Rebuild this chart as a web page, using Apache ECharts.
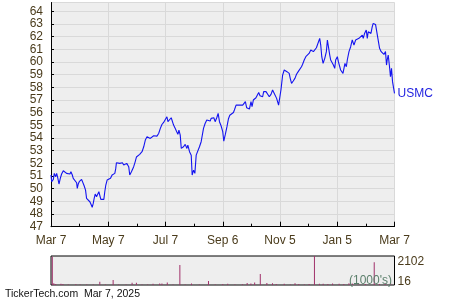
<!DOCTYPE html>
<html><head><meta charset="utf-8">
<script src="https://cdn.jsdelivr.net/npm/echarts@6/dist/echarts.min.js"></script>
<style>html,body{margin:0;padding:0;background:#fff}#c{width:450px;height:300px}</style>
</head><body><div id="c"></div>
<script>
const tickLabels = ['Mar 7','May 7','Jul 7','Sep 6','Nov 5','Jan 5','Mar 7'];
const seriesName = 'USMC';
const footerText = 'TickerTech.com  Mar 7, 2025';
const unitText = "(1000's)";
const days = [0,0.7,2.5,3.5,5.0,6.0,7.1,8.5,9.9,11.3,13.1,14.9,16.6,18.4,20.2,21.2,22.7,23.7,25.5,27.3,28.0,29.0,30.1,31.5,32.6,34.3,35.4,36.8,37.9,39.6,41.4,42.5,43.9,45.0,46.0,47.1,48.5,49.6,51.0,52.0,53.1,54.5,56.3,57.3,58.4,59.8,61.6,63.4,65.1,66.6,68.0,69.0,69.7,71.5,73.3,74.3,76.1,77.5,79.3,80.7,81.8,82.8,83.9,85.7,86.7,88.1,89.6,91.0,92.7,94.5,97.0,98.8,100.5,102.3,104.1,105.8,107.6,109.4,111.1,112.9,114.7,116.5,118.2,120.0,121.8,123.5,124.6,126.0,128.1,129.2,130.6,132.4,134.2,135.2,136.3,137.7,138.8,139.8,141.2,143.0,144.8,145.8,147.6,149.4,150.4,151.9,153.3,154.7,156.5,158.2,160.0,161.1,162.5,164.2,166.0,167.8,169.6,170.6,172.4,173.5,174.9,176.6,178.1,179.5,181.2,183.0,184.1,185.8,187.5,189.0,190.5,192.6,194.4,195.4,197.2,199.0,200.7,202.5,204.3,206.1,207.1,208.5,210.3,211.4,213.1,214.2,215.6,217.4,218.4,220.2,221.3,222.7,224.5,225.5,226.6,228.0,229.1,230.8,232.6,234.4,236.1,237.9,239.0,240.4,241.5,242.5,243.6,245.0,246.8,248.5,250.3,251.4,252.8,253.8,254.9,256.3,258.1,259.9,261.6,263.4,265.2,266.9,268.0,269.8,271.5,273.2,275.0,276.8,278.6,279.6,281.0,282.8,284.6,286.3,287.4,288.5,289.9,291.7,293.4,294.5,295.5,297.0,298.0,299.8,300.9,302.3,303.3,305.1,306.2,307.6,308.6,309.7,311.1,312.2,313.2,314.7,315.7,317.5,319.3,321.0,322.8,324.6,326.3,328.1,329.9,331.7,332.7,334.1,335.9,337.0,338.0,339.4,340.9,342.3,343.3,344.7,345.8,346.9,348.3,350.1,351.8,353.6,354.7,356.4,357.5,358.2,359.3,360.7,361.7,362.8,363.9,366.0];
const prices = [51.08,50.55,50.74,51.21,50.95,51.21,50.89,50.37,50.82,51.16,51.42,51.34,51.21,51.26,51.16,51.34,51.08,50.82,50.68,50.47,50.03,50.37,50.55,50.42,50.74,50.63,50.21,49.89,49.24,49.18,48.97,48.79,48.53,48.84,49.24,49.58,49.37,49.37,49.76,49.84,49.16,49.16,49.16,49.76,50.29,50.68,50.74,50.82,51.08,51.13,51.21,51.60,52.05,52.00,52.00,51.87,52.05,51.87,51.74,52.00,52.05,51.74,51.08,51.34,51.47,51.74,52.10,52.50,52.60,52.71,52.92,53.31,53.84,54.10,54.18,53.97,54.02,54.18,54.23,54.15,54.36,54.76,55.07,55.23,55.23,55.68,55.29,55.23,55.60,55.68,55.02,54.76,54.81,54.29,54.63,54.23,53.18,53.05,53.31,53.50,53.18,53.44,52.92,52.65,51.08,51.47,51.21,52.65,52.79,53.31,53.71,53.84,54.76,55.15,55.42,55.50,55.34,55.55,55.50,55.60,55.29,55.60,55.94,55.29,54.97,54.50,53.75,54.30,54.90,55.50,55.80,55.89,56.02,56.21,56.60,56.74,56.60,56.68,56.60,56.74,56.87,56.39,56.39,56.29,56.87,56.47,57.00,57.13,57.18,57.26,57.60,57.34,57.39,57.26,57.66,57.52,57.66,57.71,57.26,57.45,57.79,57.52,57.39,57.13,57.00,56.60,56.47,57.79,58.97,59.37,59.50,59.24,59.37,59.10,58.71,58.31,58.50,58.71,59.03,59.24,59.37,59.63,59.81,60.16,60.42,60.55,60.68,60.95,61.08,60.82,60.95,61.13,61.21,61.87,61.34,60.42,59.89,60.29,60.82,61.74,61.66,60.55,60.16,60.03,59.76,59.50,60.16,60.42,60.03,59.89,59.37,59.24,59.11,58.97,59.89,59.63,60.16,60.82,61.21,61.74,61.34,61.74,61.61,61.87,61.92,62.13,61.87,62.26,62.53,61.87,62.39,62.39,62.26,62.79,63.05,62.92,62.97,62.87,61.87,61.08,60.82,60.68,60.60,60.82,59.76,60.16,60.55,59.63,58.84,59.50,58.45,57.53];
const volDays = [1.4,3,5,10.6,12.7,18.4,26.5,31,38,45,52,58,66.2,72,80,86.4,91,97,103,108.7,115.8,118.2,123.9,130,137.3,143,149.7,158,167.8,175,183,188.3,196,204,209,213,217,223,230,236,240,248.5,255,260,264,270,275,280.7,286,290,295,300,307,312,317.5,321,328,335,344.4,350,356,362];
const volValues = [2050,150,90,110,90,60,70,50,60,50,250,60,370,50,60,180,180,60,50,100,130,120,200,60,1450,50,120,60,300,60,90,100,60,70,160,120,200,800,160,150,80,100,60,150,80,60,80,2102,110,100,90,120,100,80,150,120,60,90,1650,80,100,120];
const volTicks = [16, 2102];

const labelColor = '#4a3b1b';
const font = '"Liberation Sans", Arial, sans-serif';
const chart = echarts.init(document.getElementById('c'));
chart.setOption({
  animation: false,
  grid: [
    {left: 51, right: 55.5, top: 2.5, height: 224.2, show: true, backgroundColor: '#eeeeee', borderWidth: 0},
    {left: 51, right: 55.5, top: 256, height: 29, show: true, backgroundColor: '#eeeeee', borderColor: '#000', borderWidth: 1}
  ],
  xAxis: [
    {gridIndex: 0, type: 'value', min: 0, max: 366, interval: 61,
     axisLine: {show: true, onZero: false, lineStyle: {color: '#000', width: 1}},
     axisTick: {show: true, inside: true, length: 5, lineStyle: {color: '#000'}},
     minorTick: {show: true, splitNumber: 2, length: 3, lineStyle: {color: '#000'}},
     splitLine: {show: true, lineStyle: {color: '#d9d9d9', width: 1}},
     axisLabel: {color: labelColor, fontSize: 12, fontFamily: font, margin: 8,
       formatter: v => tickLabels[Math.round(v / 61)]}},
    {gridIndex: 1, type: 'value', min: 0, max: 366, show: false}
  ],
  yAxis: [
    {gridIndex: 0, type: 'value', min: 47, max: 64.7, interval: 1,
     axisLine: {show: true, onZero: false, lineStyle: {color: '#000'}},
     axisTick: {show: true, inside: true, length: 3, lineStyle: {color: '#000'}},
     splitLine: {show: true, lineStyle: {color: '#d9d9d9'}},
     axisLabel: {color: labelColor, fontSize: 12, fontFamily: font, margin: 8, showMaxLabel: false}},
    {gridIndex: 1, type: 'value', position: 'right', min: volTicks[0], max: volTicks[1], interval: volTicks[1] - volTicks[0],
     axisLine: {show: false}, axisTick: {show: false}, splitLine: {show: false},
     axisLabel: {show: true, color: labelColor, fontSize: 12, fontFamily: font, margin: 3,
       formatter: v => (v >= volTicks[1] - 1 ? '{t|' + volTicks[1] + '}' : '{b|' + volTicks[0] + '}'),
       rich: {t: {fontSize: 12, fontFamily: font, color: labelColor, padding: [12, 0, 0, 0]},
              b: {fontSize: 12, fontFamily: font, color: labelColor, padding: [0, 0, 6, 0]}}}}
  ],
  series: [
    {type: 'line', name: seriesName, xAxisIndex: 0, yAxisIndex: 0,
     data: days.map((d, i) => [d, prices[i]]),
     showSymbol: false, symbol: 'none',
     lineStyle: {color: '#1414f0', width: 1.1},
     endLabel: {show: true, formatter: seriesName, color: '#2323e0', fontSize: 12, fontFamily: font, distance: 3}},
    {type: 'bar', xAxisIndex: 1, yAxisIndex: 1,
     data: volDays.map((d, i) => [d, volValues[i]]),
     barWidth: 1, itemStyle: {color: '#a0306a'}}
  ],
  graphic: [
    {type: 'text', x: 5, y: 294, z: 100,
     style: {text: footerText, font: '10.5px "Liberation Sans", Arial, sans-serif', fill: '#111', verticalAlign: 'middle'}},
    {type: 'text', x: 392, y: 281, z: 100,
     style: {text: unitText, font: '12px "Liberation Sans", Arial, sans-serif', fill: '#5b7f6b', align: 'right', verticalAlign: 'middle'}}
  ]
});
</script></body></html>
